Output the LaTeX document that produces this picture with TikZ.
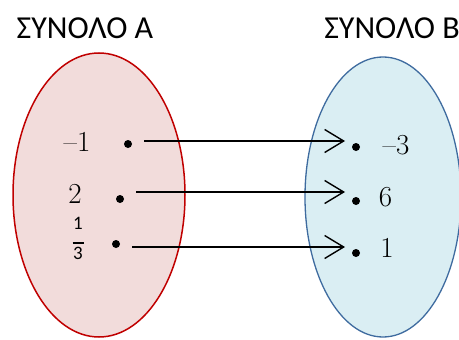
\documentclass[tikz,border=0pt]{standalone}
\usepackage{fontspec}
\usetikzlibrary{arrows.meta}
\newfontfamily\titlefont{Carlito}
\definecolor{Afill}{HTML}{F2DCDB}
\definecolor{Adraw}{HTML}{C00000}
\definecolor{Bfill}{HTML}{DAEEF3}
\definecolor{Bdraw}{HTML}{3E6B9F}
\tikzset{
  setA/.style={fill=Afill, draw=Adraw, line width=1.5pt},
  setB/.style={fill=Bfill, draw=Bdraw, line width=1.3pt},
  elem/.style={circle, fill=black, inner sep=0pt, minimum size=8pt},
  val/.style={inner sep=0pt, font=\fontsize{29}{30}\selectfont},
  title/.style={inner sep=0pt, anchor=base, font=\titlefont\fontsize{32}{34}\selectfont},
  link/.style={-{Straight Barb[length=19pt, width=23pt, line width=1.4pt]}, line width=1.4pt,
               shorten <=16pt, shorten >=11pt},
}
\begin{document}
\begin{tikzpicture}[x=1pt, y=-1pt]
  \useasboundingbox (0,0) rectangle (459,340);
  % the two sets
  \path[setA] (99,195) ellipse [x radius=86, y radius=142];
  \path[setB] (383,197) ellipse [x radius=78, y radius=140];
  \node[title] (tA) at (85,38) {ΣΥΝΟΛΟ Α};
  \node[title] (tB) at (392,38) {ΣΥΝΟΛΟ Β};
  % elements
  \node[elem] (a1) at (128,144) {};
  \node[elem] (a2) at (120,199) {};
  \node[elem] (a3) at (116,244) {};
  \node[elem] (b1) at (356,147) {};
  \node[elem] (b2) at (356,201) {};
  \node[elem] (b3) at (356,253) {};
  \node[val] (la1) at (77,142) {–1};
  \node[val] (la2) at (75,194) {2};
  \node[val, font=\titlefont\fontsize{19}{19}\selectfont] (la3) at (78,241)
    {\begin{tabular}{@{}c@{}}1\\[-5pt]\rule{11pt}{1.6pt}\\[-3pt]3\end{tabular}};
  \node[val] (lb1) at (396,145) {–3};
  \node[val] (lb2) at (385.5,197.5) {6};
  \node[val] (lb3) at (387,248) {1};
  % mapping
  \draw[link] ([yshift=3pt]a1.center) -- ([yshift=3pt]a1.center -| b1.center);
  \draw[link] ([yshift=7pt]a2.center) -- ([yshift=7pt]a2.center -| b2.center);
  \draw[link] ([yshift=-3pt]a3.center) -- ([yshift=-3pt]a3.center -| b3.center);
\end{tikzpicture}
\end{document}
